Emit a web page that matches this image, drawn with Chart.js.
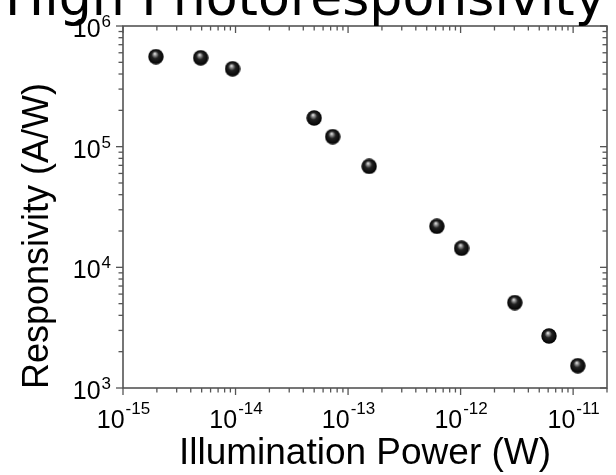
<!DOCTYPE html>
<html>
<head>
<meta charset="utf-8">
<script src="https://cdn.jsdelivr.net/npm/chart.js@4.4.1/dist/chart.umd.min.js"></script>
<style>
  html, body { margin: 0; padding: 0; background: #fff; overflow: hidden; }
  #wrap { width: 616px; height: 475px; position: relative; }
</style>
</head>
<body>
<div id="wrap"><canvas id="chart" width="616" height="475"></canvas></div>
<script>
// Data
const powerW = [1.96e-15, 4.9e-15, 9.4e-15, 5.0e-14, 7.3e-14, 1.54e-13, 6.15e-13, 1.02e-12, 3.03e-12, 6.1e-12, 1.1e-11];
const responsivity = [5.57e5, 5.45e5, 4.42e5, 1.73e5, 1.21e5, 6.87e4, 2.19e4, 1.44e4, 5.1e3, 2.7e3, 1.53e3];

// Axis ticks ("base^exponent")
const xTickValues = [1e-15, 1e-14, 1e-13, 1e-12, 1e-11];
const xTickLabels = ['10^-15', '10^-14', '10^-13', '10^-12', '10^-11'];
const yTickValues = [1e3, 1e4, 1e5, 1e6];
const yTickLabels = ['10^3', '10^4', '10^5', '10^6'];

const chartTitle = 'High Photoresponsivity';
const xTitle = 'Illumination Power (W)';
const yTitle = 'Responsivity (A/W)';

const FONT = '"Liberation Sans", Arial, sans-serif';

// shiny black ball used as the marker
function makeBall(r) {
    const c = document.createElement('canvas');
    c.width = c.height = r * 2;
    const g = c.getContext('2d');
    const grad = g.createRadialGradient(r * 0.85, r * 0.6, 0, r, r, r);
    grad.addColorStop(0, '#f4f4f4');
    grad.addColorStop(0.18, '#9a9a9a');
    grad.addColorStop(0.45, '#222');
    grad.addColorStop(1, '#000');
    g.fillStyle = grad;
    g.beginPath();
    g.arc(r, r, r - 0.3, 0, Math.PI * 2);
    g.fill();
    return c;
}
const ball = makeBall(8);

// draws "10" with a raised exponent
function drawPower(ctx, label, x, baseY, supY, align) {
    const [base, exp] = label.split('^');
    ctx.font = '25px ' + FONT;
    const wb = ctx.measureText(base).width;
    ctx.font = '17px ' + FONT;
    const we = ctx.measureText(exp).width;
    let left = align === 'right' ? x - wb - we : x - (wb + we) / 2;
    ctx.textAlign = 'left';
    ctx.font = '25px ' + FONT;
    ctx.fillText(base, left, baseY);
    ctx.font = '17px ' + FONT;
    ctx.fillText(exp, left + wb + 1, supY);
}

// frame, inward/outward ticks, tick labels and titles
const decorations = {
    id: 'decorations',
    afterDraw(chart) {
        const { ctx, chartArea: a, scales: { x, y } } = chart;
        ctx.save();
        ctx.strokeStyle = '#4a4a4a';
        ctx.lineWidth = 1.5;
        ctx.strokeRect(a.left, a.top, a.right - a.left, a.bottom - a.top);

        ctx.lineWidth = 1.3;
        ctx.strokeStyle = '#555';
        const seg = (x1, y1, x2, y2) => { ctx.beginPath(); ctx.moveTo(x1, y1); ctx.lineTo(x2, y2); ctx.stroke(); };
        for (let d = -15; d <= -11; d++) {
            for (let m = 1; m <= 9; m++) {
                const v = m * Math.pow(10, d);
                if (v > x.max * 1.0001) continue;
                const px = x.getPixelForValue(v);
                const len = m === 1 ? 7 : 4.5;
                seg(px, a.bottom, px, a.bottom + len);
                seg(px, a.top, px, a.top + len);
            }
        }
        for (let d = 3; d <= 6; d++) {
            for (let m = 1; m <= 9; m++) {
                const v = m * Math.pow(10, d);
                if (v > y.max * 1.0001) continue;
                const py = y.getPixelForValue(v);
                const len = m === 1 ? 7 : 4.5;
                seg(a.left, py, a.left - len, py);
                seg(a.right, py, a.right - len, py);
            }
        }

        ctx.fillStyle = '#000';
        ctx.textBaseline = 'alphabetic';
        xTickValues.forEach((v, i) => {
            drawPower(ctx, xTickLabels[i], x.getPixelForValue(v), a.bottom + 40, a.bottom + 26, 'center');
        });
        yTickValues.forEach((v, i) => {
            const py = y.getPixelForValue(v);
            drawPower(ctx, yTickLabels[i], a.left - 13, py + 11, py + 1, 'right');
        });

        // chart title (cut off at the top)
        ctx.font = '100px "DejaVu Sans"';
        const w = ctx.measureText(chartTitle).width;
        ctx.font = (100 * 600 / w).toFixed(1) + 'px "DejaVu Sans"';
        ctx.textAlign = 'left';
        ctx.fillText(chartTitle, 5, 15);

        ctx.font = '37px ' + FONT;
        ctx.textAlign = 'center';
        ctx.fillText(xTitle, (a.left + a.right) / 2, 464);

        ctx.translate(48, 236);
        ctx.rotate(-Math.PI / 2);
        ctx.font = '36px ' + FONT;
        ctx.fillText(yTitle, 0, 0);
        ctx.restore();
    }
};

const ctx = document.getElementById('chart').getContext('2d');
new Chart(ctx, {
    type: 'scatter',
    data: {
        datasets: [{
            data: powerW.map((p, i) => ({ x: p, y: responsivity[i] })),
            pointStyle: ball,
            pointRadius: 8,
            pointHoverRadius: 8
        }]
    },
    options: {
        responsive: false,
        animation: false,
        events: [],
        layout: { padding: { top: 26, right: 8, left: 0, bottom: 0 } },
        plugins: { legend: { display: false }, tooltip: { enabled: false } },
        scales: {
            x: {
                type: 'logarithmic',
                min: 1e-15,
                max: 2e-11,
                grid: { display: false },
                border: { display: false },
                afterBuildTicks: s => { s.ticks = xTickValues.map(v => ({ value: v })); },
                afterFit: s => { s.height = 87; },
                ticks: { display: false }
            },
            y: {
                type: 'logarithmic',
                min: 1e3,
                max: 1e6,
                grid: { display: false },
                border: { display: false },
                afterBuildTicks: s => { s.ticks = yTickValues.map(v => ({ value: v })); },
                afterFit: s => { s.width = 123; },
                ticks: { display: false }
            }
        }
    },
    plugins: [decorations]
});
</script>
</body>
</html>
